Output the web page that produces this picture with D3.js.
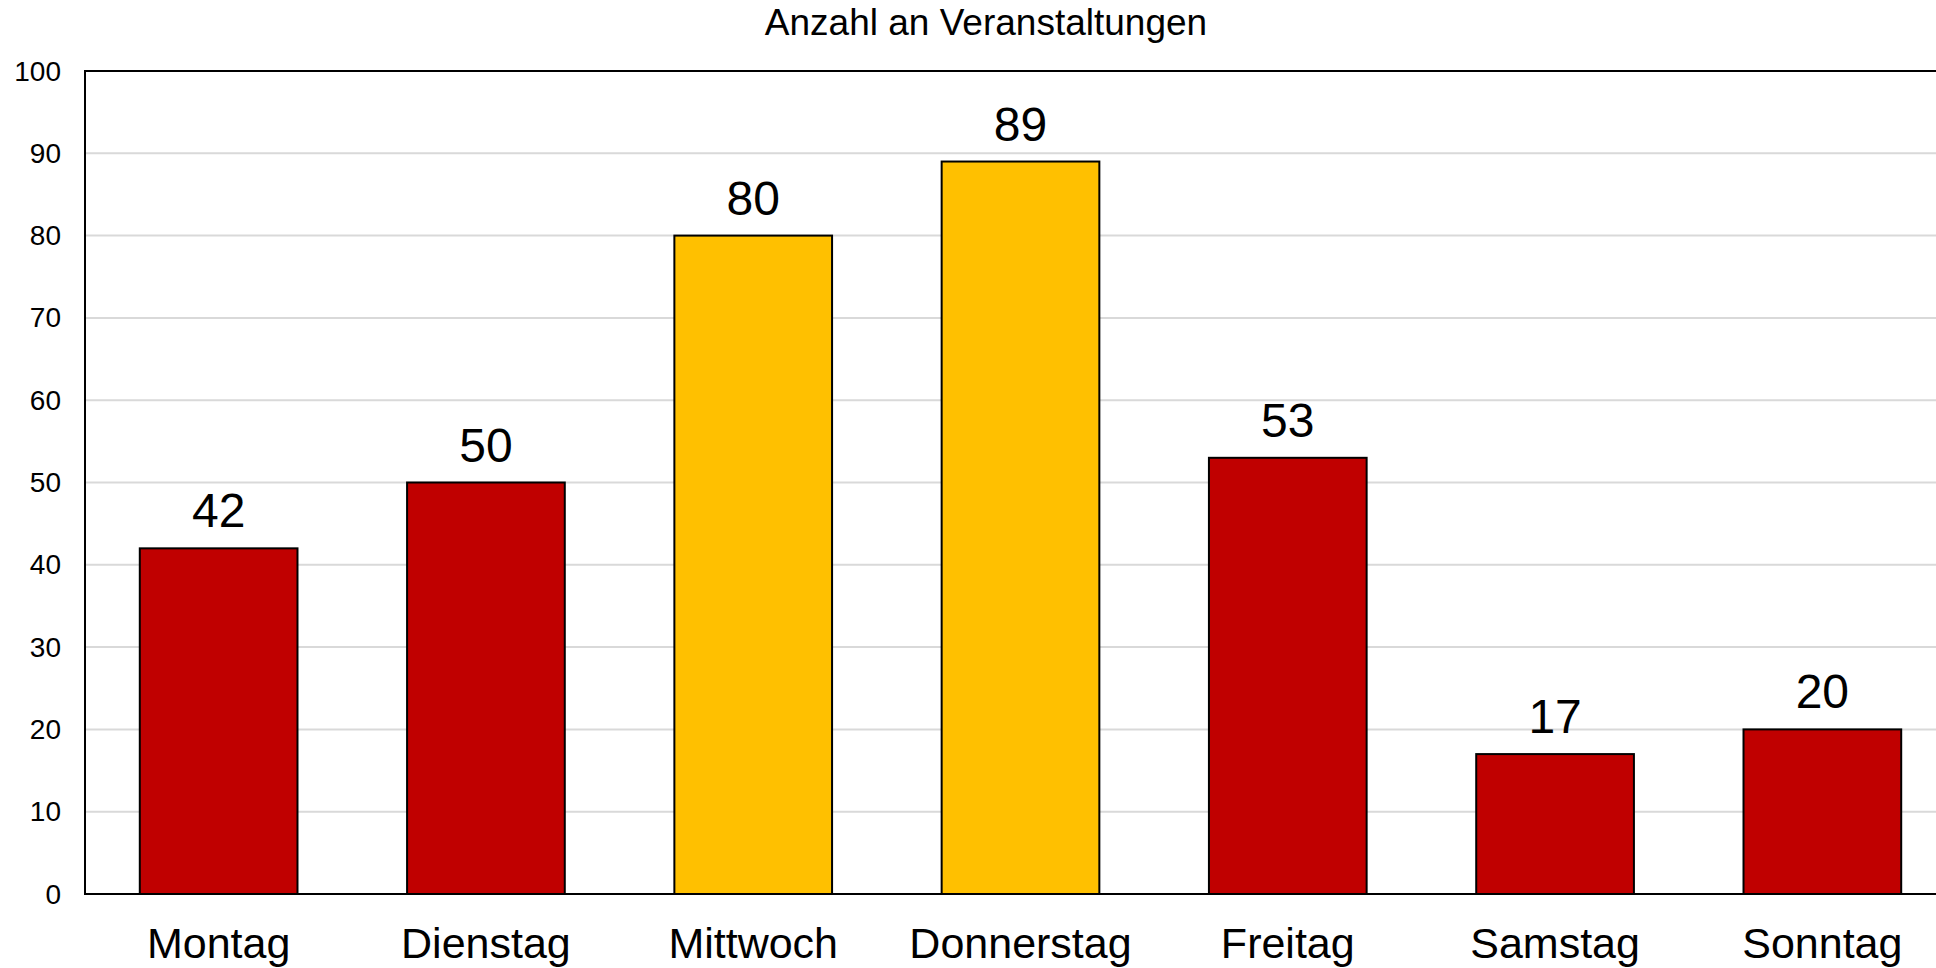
<!DOCTYPE html>
<html>
<head>
<meta charset="utf-8">
<script src="https://cdn.jsdelivr.net/npm/d3@7"></script>
<style>
  html, body { margin: 0; padding: 0; background: #fff; }
  svg { display: block; }
  text { font-family: "Liberation Sans", Arial, sans-serif; fill: #000; }
</style>
</head>
<body>
<script>
const title = "Anzahl an Veranstaltungen";
const categories = ["Montag", "Dienstag", "Mittwoch", "Donnerstag", "Freitag", "Samstag", "Sonntag"];
const values = [42, 50, 80, 89, 53, 17, 20];
const barColors = ["#C00000", "#C00000", "#FFC000", "#FFC000", "#C00000", "#C00000", "#C00000"];
const yTicks = [0, 10, 20, 30, 40, 50, 60, 70, 80, 90, 100];

const W = 1936, H = 968;
const plotLeft = 85, plotRight = 1956, plotTop = 71, plotBottom = 894;

const svg = d3.select("body").append("svg").attr("width", W).attr("height", H);

const x = d3.scaleBand().domain(categories).range([plotLeft, plotRight]).paddingInner(0.41).paddingOuter(0.205);
const y = d3.scaleLinear().domain([0, 100]).range([plotBottom, plotTop]);

// gridlines
svg.append("g").selectAll("line").data(yTicks.filter(t => t > 0 && t < 100)).join("line")
  .attr("x1", plotLeft).attr("x2", W)
  .attr("y1", d => y(d)).attr("y2", d => y(d))
  .attr("stroke", "#D9D9D9").attr("stroke-width", 2);

// y tick labels
svg.append("g").selectAll("text").data(yTicks).join("text")
  .attr("x", 61).attr("y", d => y(d))
  .attr("text-anchor", "end").attr("dominant-baseline", "central")
  .attr("font-size", 28).text(d => d);

// bars
svg.append("g").selectAll("rect").data(values).join("rect")
  .attr("x", (d, i) => x(categories[i]))
  .attr("y", d => y(d))
  .attr("width", x.bandwidth())
  .attr("height", d => y(0) - y(d))
  .attr("fill", (d, i) => barColors[i])
  .attr("stroke", "#000").attr("stroke-width", 2);

// frame: top, left, bottom
svg.append("path")
  .attr("d", `M${W + 5},${plotTop} H${plotLeft} V${plotBottom} H${W + 5}`)
  .attr("fill", "none").attr("stroke", "#000").attr("stroke-width", 2);

// value labels
svg.append("g").selectAll("text").data(values).join("text")
  .attr("x", (d, i) => x(categories[i]) + x.bandwidth() / 2)
  .attr("y", d => y(d) - 21)
  .attr("text-anchor", "middle")
  .attr("font-size", 48).text(d => d);

// category labels
svg.append("g").selectAll("text").data(categories).join("text")
  .attr("x", d => x(d) + x.bandwidth() / 2)
  .attr("y", 958)
  .attr("text-anchor", "middle")
  .attr("font-size", 43).text(d => d);

// title
svg.append("text").attr("x", 986).attr("y", 35)
  .attr("text-anchor", "middle").attr("font-size", 37).text(title);
</script>
</body>
</html>
